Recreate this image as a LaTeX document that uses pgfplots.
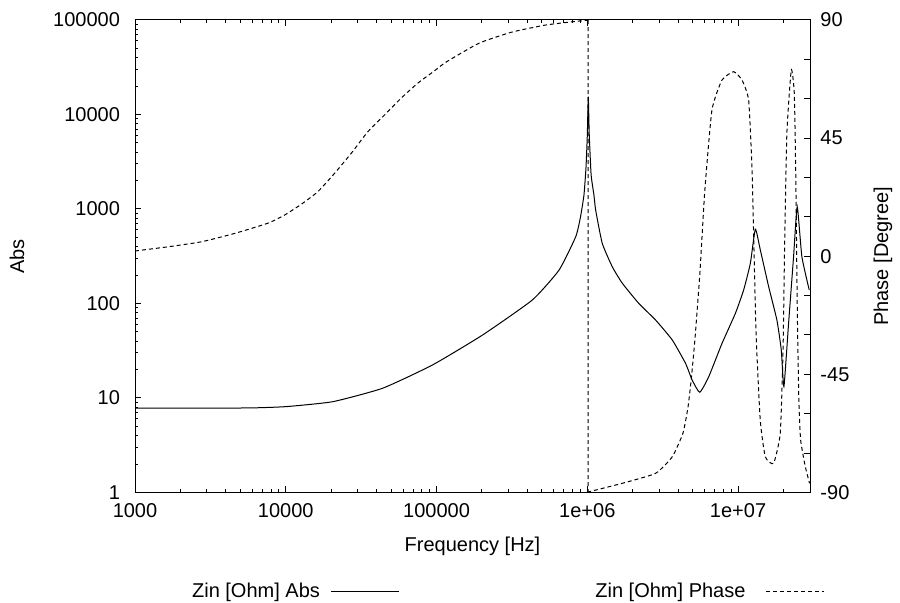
\documentclass[border=0pt]{standalone}
\usepackage{fontspec}
\setmainfont{Liberation Sans}
\usepackage{pgfplots}
\pgfplotsset{compat=1.18}

\pgfplotstableread{
f a
1000 7.8
2000 7.8
5770 7.85
10000 8.1
20500 9.14
44000 12.7
94200 22.4
202000 46.4
432000 109
650000 226
838000 509
900000 815
950000 1400
980000 2740
1000000 6000
1015000 15400
1030000 6200
1060000 2300
1107000 1400
1136000 976
1256000 434
1464000 245
1706000 164
2198000 100
2836000 66.9
3660000 41.1
4480000 23.3
4960000 15.5
5570000 11.5
6390000 16.8
7830000 37.9
9600000 78.7
10890000 139
12060000 266
13020000 610
14050000 368
15950000 151
18090000 66.9
19350000 32.2
20140000 13.2
21630000 61.7
23340000 313
24680000 1057
26500000 313
29650000 139
}\abstab

\pgfplotstableread{
f p
1000 2.0
1660 3.6
2760 5.5
4590 8.7
7620 12.6
9830 15.7
12680 19.8
16330 24.6
21080 31.6
27170 39.2
35000 47.4
45150 53.8
58200 60.2
75000 65.9
96800 70.6
116000 74.0
192000 81.2
317000 85.4
533000 88.1
882000 89.6
1012000 89.9
}\phasetabA

\pgfplotstableread{
f p
1012000 89.9
1012500 -89.9
}\phasetabB

\pgfplotstableread{
f p
1012500 -89.9
1030000 -89.7
1706000 -86.5
2836000 -82.7
3660000 -76.4
4310000 -67.4
4660000 -57.3
4910000 -45.9
5170000 -31.9
5580000 -6.5
6020000 25.2
6710000 55.7
7820000 67.1
9350000 70.3
10620000 67.1
11750000 59.5
12360000 34.1
12680000 8.7
13160000 -29.4
14030000 -62.4
15160000 -76.4
17200000 -78.9
19050000 -67.4
19880000 -35.7
20340000 2.4
21070000 46.8
22530000 71.0
23600000 62
24150000 30
24700000 -20
25300000 -55
26000000 -70
27900000 -80.1
29800000 -86.5
}\phasetabC

\begin{document}
\begin{tikzpicture}[font=\fontsize{10}{12}\selectfont]
\begin{axis}[
  name=main,
  scale only axis, width=337.5pt, height=236.25pt,
  xmode=log, ymode=log,
  xmin=1000, xmax=3e7, ymin=1, ymax=100000,
  xtick={1000,10000,100000,1000000,10000000},
  xticklabels={1000,10000,100000,1e+06,1e+07},
  minor xtick={2000,3000,4000,5000,6000,7000,8000,9000,20000,30000,40000,50000,60000,70000,80000,90000,2e5,3e5,4e5,5e5,6e5,7e5,8e5,9e5,2e6,3e6,4e6,5e6,6e6,7e6,8e6,9e6,2e7},
  ytick={1,10,100,1000,10000,100000},
  yticklabels={1,10,100,1000,10000,100000},
  minor ytick={2,3,4,5,6,7,8,9,20,30,40,50,60,70,80,90,200,300,400,500,600,700,800,900,2000,3000,4000,5000,6000,7000,8000,9000,20000,30000,40000,50000,60000,70000,80000,90000},
  xtick pos=both, ytick pos=left,
  xticklabel pos=lower,
  tick align=inside,
  major tick length=3.2pt, minor tick length=1.7pt,
  tick style={black, line width=0.5pt},
  axis line style={line width=0.5pt},
  xlabel={Frequency [Hz]}, ylabel={Abs},
  x label style={at={(axis description cs:0.5,-0.1143)},anchor=center},
  y label style={at={(axis description cs:-0.1748,0.5)},anchor=center},
  xticklabel style={yshift=-2pt},
  yticklabel style={xshift=-4pt},
  legend plot pos=right,
  legend style={at={(axis description cs:0.084,-0.2095)}, anchor=west, draw=none, fill=none, inner sep=0pt, nodes={inner sep=0pt}},
  legend image code/.code={\path (0pt,0pt); \draw[#1] (5.5pt,0pt) -- (39.5pt,0pt);},
  /pgf/number format/assume math mode=true,
]
\addplot[black, line width=0.5pt, smooth, tension=0.3] table[x=f,y=a] {\abstab};
\addlegendentry{Zin [Ohm] Abs}
\end{axis}
\begin{axis}[
  scale only axis, width=337.5pt, height=236.25pt,
  xmode=log, xmin=1000, xmax=3e7, ymin=-90, ymax=90,
  axis x line=none, axis y line*=right,
  ytick={-90,-45,0,45,90},
  yticklabels={-90,-45,0,45,90},
  minor ytick={-75,-60,-30,-15,15,30,60,75},
  tick align=inside,
  major tick length=3.2pt, minor tick length=3.2pt,
  tick style={black, line width=0.5pt},
  axis line style={line width=0.5pt},
  ylabel={Phase [Degree]},
  y label style={at={(axis description cs:1.108,0.5)},anchor=center},
  yticklabel style={xshift=1.7pt},
  legend plot pos=right,
  legend style={at={(axis description cs:0.6815,-0.2095)}, anchor=west, draw=none, fill=none, inner sep=0pt, nodes={inner sep=0pt}},
  legend image code/.code={\path (0pt,0pt); \draw[#1] (10pt,0pt) -- (39pt,0pt);},
  /pgf/number format/assume math mode=true,
]
\addplot[black, line width=0.5pt, dash pattern=on 2pt off 1.5pt, smooth, tension=0.3] table[x=f,y=p] {\phasetabA};
\addlegendentry{Zin [Ohm] Phase}
\addplot[black, line width=0.5pt, dash pattern=on 2pt off 1.5pt, forget plot] table[x=f,y=p] {\phasetabB};
\addplot[black, line width=0.5pt, dash pattern=on 2pt off 1.5pt, smooth, tension=0.3, forget plot] table[x=f,y=p] {\phasetabC};
\end{axis}
\path (main.south west) ++(-67.5pt,-55.25pt) rectangle ++(450pt,301.5pt);
\end{tikzpicture}
\end{document}
